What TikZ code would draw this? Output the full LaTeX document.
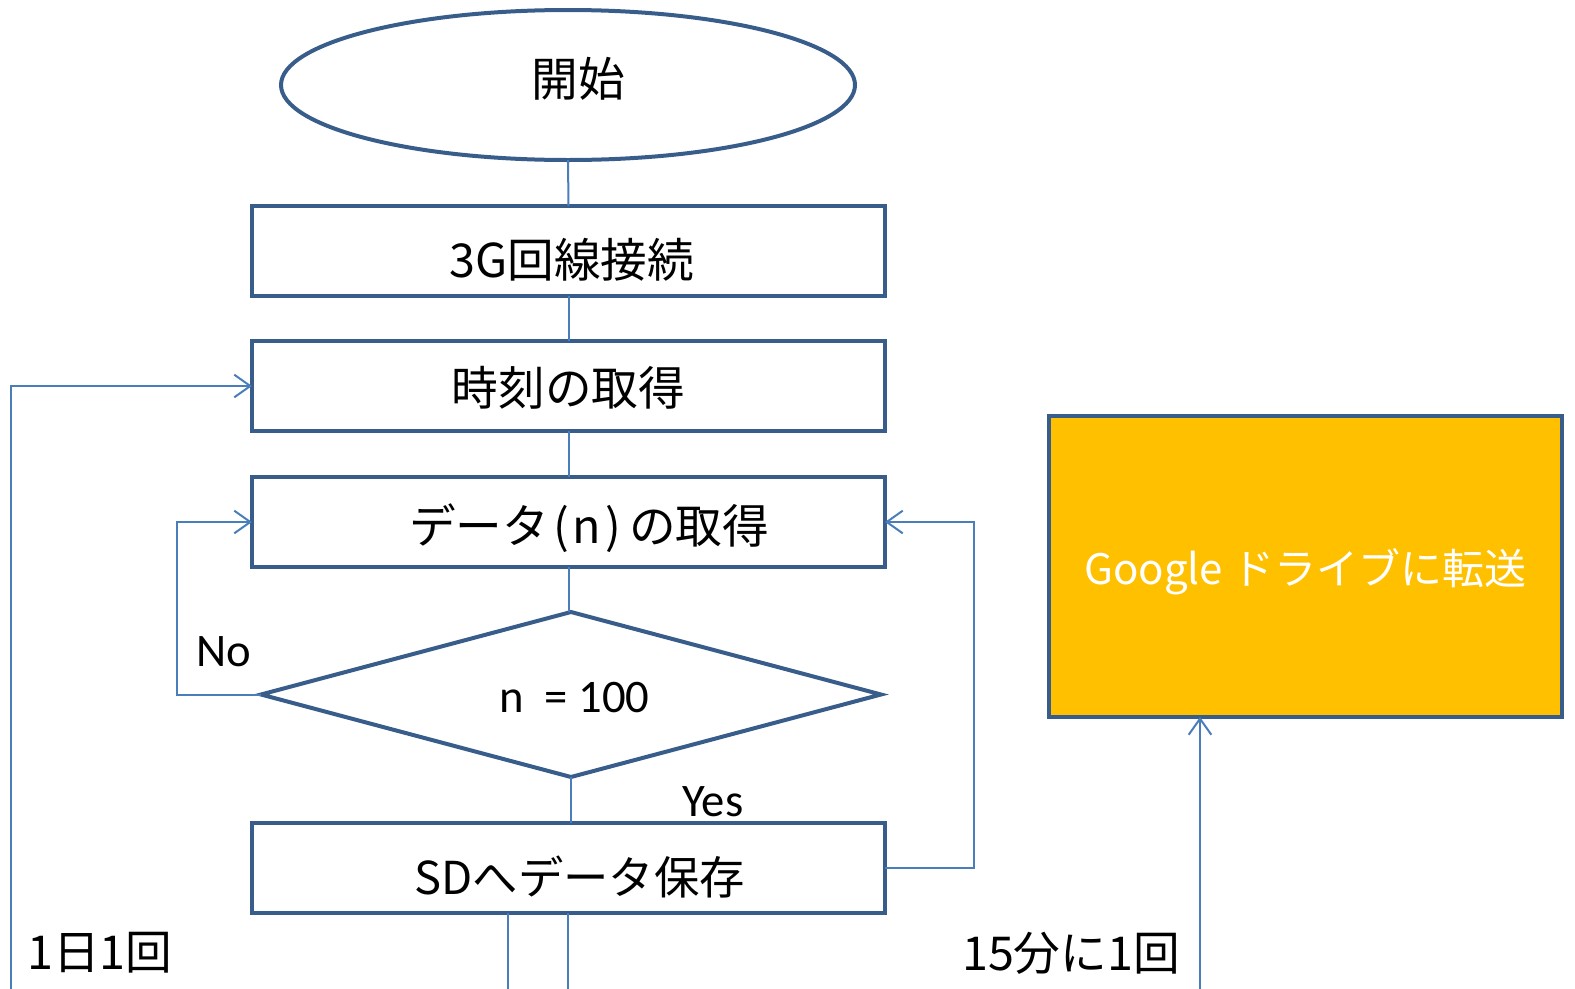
\documentclass[tikz,border=0pt]{standalone}
\usepackage{fontspec}
\setmainfont{Noto Sans CJK JP}
\newfontfamily\latinf{Carlito}
\usetikzlibrary{shapes.geometric,arrows.meta}
\definecolor{bordc}{HTML}{385D8A}
\definecolor{linec}{HTML}{4A7EBB}
\definecolor{gold}{HTML}{FFC000}
\newcommand\tpos[3]{\vphantom{#3}\smash{\raisebox{-#2}{\makebox[0pt]{\hspace*{#1}\hspace*{#1}#3}}}}
\begin{document}
\begin{tikzpicture}[x=0.75pt,y=-0.75pt,
  every node/.style={font=\fontsize{35}{40}\selectfont, inner sep=0pt, outer sep=0pt},
  proc/.style={draw=bordc, line width=3pt, rectangle, minimum width=474.75pt, minimum height=67.5pt},
  conn/.style={draw=linec, line width=1.5pt},
  arr/.style={conn, -{Straight Barb[length=12pt,width=17pt]}},
  lbl/.style={font=\fontsize{35}{40}\selectfont},
]
\useasboundingbox (0,0) rectangle (1575,989);

\node[draw=bordc, line width=3pt, ellipse, minimum width=430.5pt, minimum height=112.5pt] (start) at (568,85) {\tpos{7.5pt}{-4.5pt}{開始}};
\node[proc] (b1) at (568.5,251) {\tpos{2.5pt}{6.5pt}{3G回線接続}};
\node[proc] (b2) at (568.5,386) {\tpos{0pt}{1.5pt}{時刻の取得}};
\node[proc] (b3) at (568.5,522) {\tpos{15.5pt}{5pt}{データ\hspace{3pt}(\hspace{3pt}n\hspace{3pt})\hspace{6pt}の取得}};
\node[draw=bordc, line width=3pt, diamond, minimum width=465pt, minimum height=123.75pt] (dia) at (571,694.5) {\tpos{2.5pt}{2pt}{\latinf n\ \ = 100}};
\node[proc] (b4) at (568.5,868) {\tpos{8.5pt}{6.5pt}{\fontsize{34}{40}\selectfont SDへデータ保存}};
\node[draw=bordc, line width=3pt, fill=gold, rectangle, minimum width=384.75pt, minimum height=225.75pt, text=white] (g) at (1305.5,566.5) {\tpos{0pt}{4pt}{\fontsize{31.5}{36}\selectfont Google ドライブに転送}};

\node[lbl] (no) at (224,652) {\latinf No};
\node[lbl] (yes) at (713,802) {\latinf Yes};
\node[lbl] (day) at (100,953) {1日1回};
\node[lbl] (q15) at (1071,953) {15分に1回};

\coordinate (ebl) at (11,989);
\coordinate (eb1) at (508,989);
\coordinate (eb2) at (568,989);
\coordinate (ebg) at (1200,989);

\draw[conn] (start.south) -- (b1.north);
\draw[conn] (b1.south) -- (b2.north);
\draw[conn] (b2.south) -- (b3.north);
\draw[conn] (b3.south) -- (b3.south |- dia.north);
\draw[conn] (dia.south) -- (dia.south |- b4.north);
\draw[conn] (b4.south -| eb1) -- (eb1);
\draw[conn] (b4.south -| eb2) -- (eb2);
\draw[arr] (ebl) |- (b2.west);
\draw[arr] (dia.west) -- (177,694.5) |- (b3.west);
\draw[arr] (b4.east) -- (974,868) |- (b3.east);
\draw[arr] (ebg) -- (ebg |- g.south);
\end{tikzpicture}
\end{document}
